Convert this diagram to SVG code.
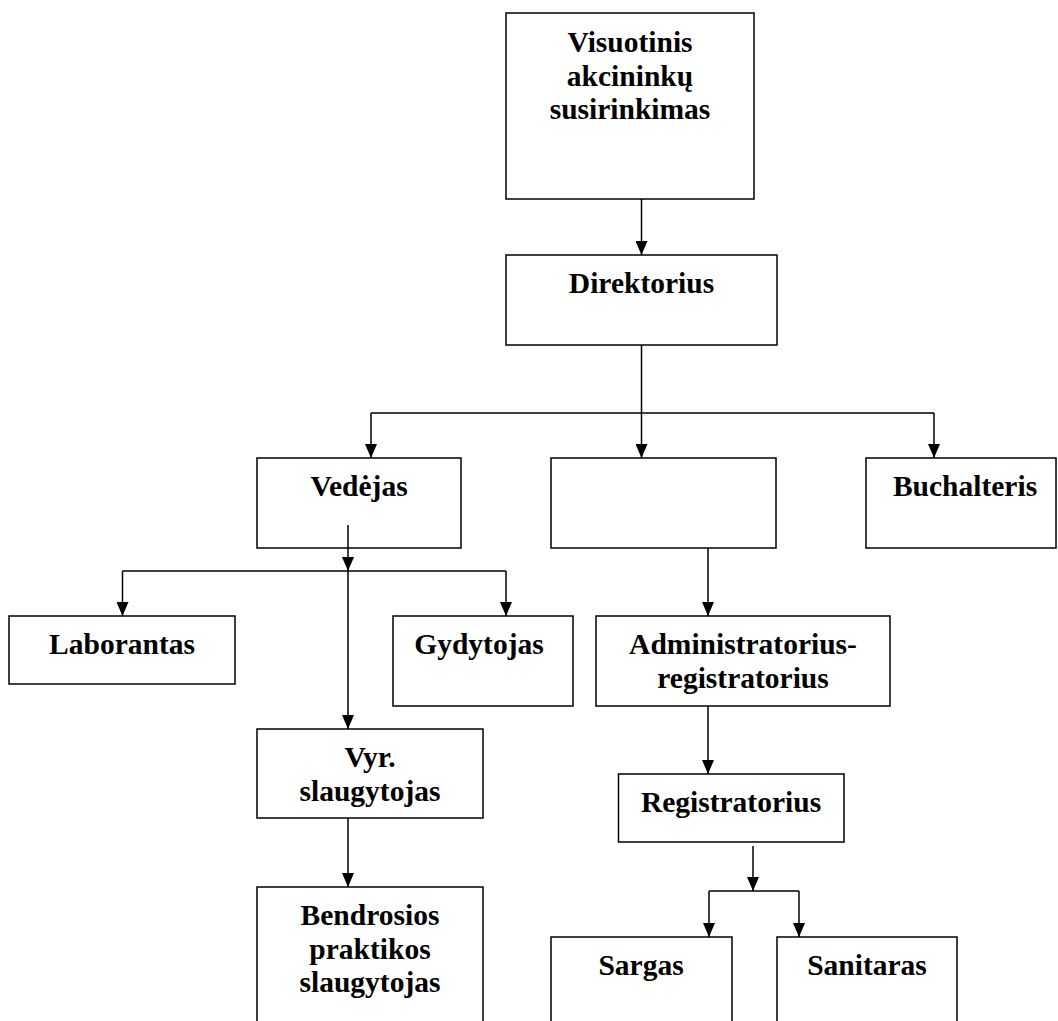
<svg xmlns="http://www.w3.org/2000/svg" width="1058" height="1021" viewBox="0 0 1058 1021">
  <style>
    .box { fill: #fff; stroke: #000; stroke-width: 1.5; }
    .lbl { font-family: "Liberation Serif", "Times New Roman", serif; font-weight: bold; font-size: 29.5px; fill: #000; text-anchor: middle; }
    .ln { fill: none; stroke: #000; stroke-width: 1.5; }
    .arr { fill: none; stroke: #000; stroke-width: 1.5; marker-end: url(#ah); }
  </style>
  <defs>
    <marker id="ah" markerUnits="userSpaceOnUse" markerWidth="14" markerHeight="12" refX="14" refY="6" orient="auto">
      <path d="M0,0 L14,6 L0,12 z" fill="#000"/>
    </marker>
  </defs>
  <rect width="1058" height="1021" fill="#fff"/>

  <g id="n-visuotinis">
    <rect class="box" x="506" y="13" width="248" height="186"/>
    <text class="lbl" x="630" y="52">Visuotinis</text>
    <text class="lbl" x="630" y="85.7">akcininkų</text>
    <text class="lbl" x="630" y="119.4">susirinkimas</text>
  </g>
  <g id="n-direktorius">
    <rect class="box" x="506" y="255" width="271" height="90"/>
    <text class="lbl" x="641.5" y="293">Direktorius</text>
  </g>
  <g id="n-vedejas">
    <rect class="box" x="257" y="458" width="204" height="90"/>
    <text class="lbl" x="359" y="496">Vedėjas</text>
  </g>
  <g id="n-empty">
    <rect class="box" x="551" y="458" width="225" height="90"/>
  </g>
  <g id="n-buchalteris">
    <rect class="box" x="866" y="458" width="190" height="90"/>
    <text class="lbl" x="965" y="496">Buchalteris</text>
  </g>
  <g id="n-laborantas">
    <rect class="box" x="9" y="616" width="226" height="68"/>
    <text class="lbl" x="122" y="654">Laborantas</text>
  </g>
  <g id="n-gydytojas">
    <rect class="box" x="393" y="616" width="180" height="90"/>
    <text class="lbl" x="479" y="654">Gydytojas</text>
  </g>
  <g id="n-administratorius">
    <rect class="box" x="596" y="616" width="294" height="90"/>
    <text class="lbl" x="743" y="654">Administratorius-</text>
    <text class="lbl" x="743" y="687.7">registratorius</text>
  </g>
  <g id="n-vyr">
    <rect class="box" x="257" y="729" width="226" height="89"/>
    <text class="lbl" x="370" y="767">Vyr.</text>
    <text class="lbl" x="370" y="800.7">slaugytojas</text>
  </g>
  <g id="n-registratorius">
    <rect class="box" x="618.5" y="774" width="225.5" height="68"/>
    <text class="lbl" x="731" y="812">Registratorius</text>
  </g>
  <g id="n-bendrosios">
    <rect class="box" x="257" y="887" width="226" height="150"/>
    <text class="lbl" x="370" y="925">Bendrosios</text>
    <text class="lbl" x="370" y="958.7">praktikos</text>
    <text class="lbl" x="370" y="992.4">slaugytojas</text>
  </g>
  <g id="n-sargas">
    <rect class="box" x="551" y="937" width="181" height="100"/>
    <text class="lbl" x="641" y="975">Sargas</text>
  </g>
  <g id="n-sanitaras">
    <rect class="box" x="777" y="937" width="180" height="100"/>
    <text class="lbl" x="867" y="975">Sanitaras</text>
  </g>

  <g id="connectors">
    <path class="arr" d="M641.5,199 V255"/>
    <path class="ln" d="M641.5,345 V413"/>
    <path class="ln" d="M371,413 H934"/>
    <path class="arr" d="M371,413 V458"/>
    <path class="arr" d="M641.5,413 V458"/>
    <path class="arr" d="M934,413 V458"/>
    <path class="arr" d="M348,525 V571"/>
    <path class="ln" d="M122.5,571 H506"/>
    <path class="arr" d="M122.5,571 V616"/>
    <path class="arr" d="M506,571 V616"/>
    <path class="arr" d="M348,571 V729"/>
    <path class="arr" d="M348,818 V887"/>
    <path class="arr" d="M708,548 V616"/>
    <path class="arr" d="M708,706 V774"/>
    <path class="arr" d="M753,846 V891"/>
    <path class="ln" d="M709,891 H799"/>
    <path class="arr" d="M709,891 V937"/>
    <path class="arr" d="M799,891 V937"/>
  </g>
</svg>
